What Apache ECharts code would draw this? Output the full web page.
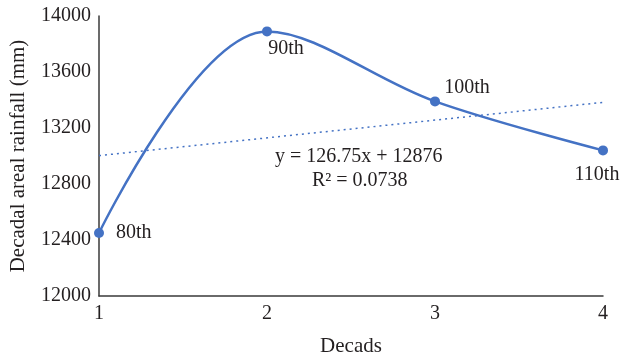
<!DOCTYPE html>
<html><head><meta charset="utf-8">
<script src="https://cdn.jsdelivr.net/npm/echarts@6/dist/echarts.min.js"></script>
<style>html,body{margin:0;padding:0;background:#fff}#c{width:622px;height:360px}</style>
</head><body><div id="c"></div>
<script>
const decades = [1, 2, 3, 4];
const rainfall = [12450, 13890, 13390, 13040];
const pointLabels = ['80th', '90th', '100th', '110th'];
const trendSlope = 126.75;
const trendIntercept = 12876;
const yTicks = [12000, 12400, 12800, 13200, 13600, 14000];

const font = '"Liberation Serif", "DejaVu Serif", serif';
const blue = '#4472C4';
const txt = '#231f20';
const labelPos = [
  {position: 'right', distance: 12},
  {position: 'bottom', distance: 2, offset: [19, 0]},
  {position: 'top', distance: -1, offset: [32, 0]},
  {position: 'bottom', distance: 9, offset: [-6, 0]}
];
const mainData = decades.map((d, i) => ({
  value: [d, rainfall[i]],
  label: Object.assign({show: true, formatter: pointLabels[i], color: txt, fontFamily: font, fontSize: 20}, labelPos[i])
}));
const trendData = [decades[0], decades[decades.length - 1]].map(x => [x, trendSlope * x + trendIntercept]);

const chart = echarts.init(document.getElementById('c'));
chart.setOption({
  animation: false,
  grid: {left: 99, right: 19, top: 16, bottom: 64, containLabel: false, outerBoundsMode: 'none'},
  xAxis: {
    type: 'value', min: 1, max: 4, interval: 1,
    name: 'Decads', nameLocation: 'middle', nameGap: 40,
    nameTextStyle: {fontFamily: font, fontSize: 21, color: txt},
    axisLine: {lineStyle: {color: '#3a3a3a', width: 1.5}},
    axisTick: {show: false}, splitLine: {show: false},
    axisLabel: {fontFamily: font, fontSize: 20, color: txt, margin: 8}
  },
  yAxis: {
    type: 'value', min: yTicks[0], max: yTicks[yTicks.length - 1], interval: 400,
    name: 'Decadal areal rainfall (mm)', nameLocation: 'middle', nameGap: 70,
    nameTextStyle: {fontFamily: font, fontSize: 21, color: txt},
    axisLine: {show: true, lineStyle: {color: '#3a3a3a', width: 1.5}},
    axisTick: {show: false}, splitLine: {show: false},
    axisLabel: {fontFamily: font, fontSize: 20, color: txt, margin: 8, formatter: v => String(v)}
  },
  series: [
    {
      type: 'line', data: trendData, symbol: 'none', silent: true,
      lineStyle: {color: blue, width: 1.5, type: [2, 4]}, z: 1
    },
    {
      type: 'line', data: mainData, smooth: 0.35,
      symbol: 'circle', symbolSize: 10,
      itemStyle: {color: blue},
      lineStyle: {color: blue, width: 2.5}, z: 2
    }
  ],
  graphic: [
    {type: 'text', left: 275, top: 147, style: {text: 'y = 126.75x + 12876', font: '20px ' + font, fill: txt}},
    {type: 'text', left: 312, top: 171, style: {text: 'R² = 0.0738', font: '20px ' + font, fill: txt}}
  ]
});
</script></body></html>
